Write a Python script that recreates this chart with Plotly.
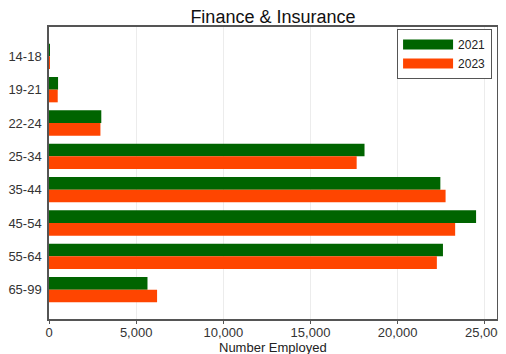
import plotly.graph_objects as go

categories = ["14-18", "19-21", "22-24", "25-34", "35-44", "45-54", "55-64", "65-99"]
values_2021 = [40, 520, 3000, 18100, 22450, 24500, 22600, 5650]
values_2023 = [30, 500, 2950, 17650, 22750, 23300, 22250, 6200]
x_ticks = [0, 5000, 10000, 15000, 20000, 25000]
series_names = ["2021", "2023"]
series_colors = ["#006400", "#FF4500"]

fig = go.Figure()
for name, vals, col in zip(series_names, [values_2021, values_2023], series_colors):
    fig.add_trace(go.Bar(y=categories, x=vals, name=name, orientation="h",
                         marker=dict(color=col, line=dict(width=0)),
                         showlegend=False, legendgroup=name))
# legend entries drawn as wide swatches
for name, col in zip(series_names, series_colors):
    fig.add_trace(go.Scatter(x=[None], y=[None], mode="lines", name=name,
                             line=dict(color=col, width=12), legendgroup=name))

fig.update_layout(
    width=498, height=346,
    margin=dict(l=41, r=9, t=19, b=35),
    paper_bgcolor="white", plot_bgcolor="white",
    font=dict(family="Liberation Sans, Arial, sans-serif", size=13, color="#333"),
    title=dict(text="Finance & Insurance", x=0.532, xanchor="center", y=0.976, yanchor="middle",
               font=dict(size=18, color="#111")),
    barmode="group", bargap=0.24, bargroupgap=0,
    legend=dict(x=0.989, y=0.993, xanchor="right", yanchor="top",
                bordercolor="#555", borderwidth=1, bgcolor="white",
                font=dict(size=12, color="#222"), traceorder="normal",
                itemwidth=50, tracegroupgap=0),
    showlegend=True,
    annotations=[dict(text="Number Employed", xref="paper", yref="paper", x=0.5, y=0,
                      xanchor="center", yanchor="top", yshift=-18.5, showarrow=False,
                      font=dict(size=13, color="#222"))],
)
fig.update_xaxes(
    range=[0, 25700], tickvals=x_ticks, tickformat=",",
    showgrid=True, gridcolor="#ececec", gridwidth=1,
    showline=True, linecolor="#555", linewidth=1.5, mirror=True,
    ticks="outside", ticklen=3, tickcolor="#555",
    zeroline=False, automargin=False, ticklabelstandoff=-2,
    tickfont=dict(size=13, color="#333"),
)
fig.update_yaxes(
    autorange=False, range=[7.88, -0.88], automargin=False,
    showgrid=False, showline=True, linecolor="#555", linewidth=1.5, mirror=True,
    ticks="", tickfont=dict(size=13, color="#333"), ticklabelstandoff=3,
)
fig.write_html("out.html")
